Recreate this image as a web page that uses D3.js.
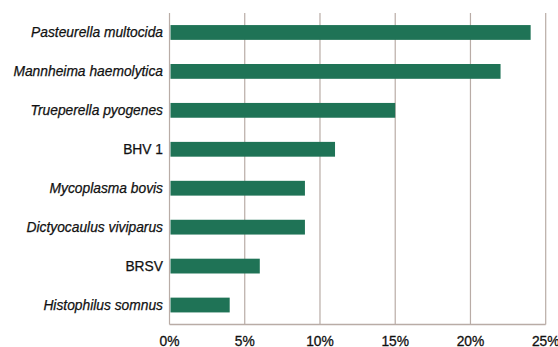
<!DOCTYPE html>
<html><head><meta charset="utf-8">
<script src="https://cdn.jsdelivr.net/npm/d3@7"></script>
<style>body{margin:0;background:#fff}svg{display:block}</style>
</head><body>
<script>
const categories = ["Pasteurella multocida","Mannheima haemolytica","Trueperella pyogenes","BHV 1","Mycoplasma bovis","Dictyocaulus viviparus","BRSV","Histophilus somnus"];
const italic = [true,true,true,false,true,true,false,true];
const values = [24,22,15,11,9,9,6,4];
const ticks = [0,5,10,15,20,25];

const W=558,H=347;
const m={left:169.5,right:12.3,top:13,bottom:22.5};
const svg=d3.select("body").append("svg").attr("width",W).attr("height",H);
const x=d3.scaleLinear().domain([0,25]).range([m.left,W-m.right]);
const y=d3.scaleBand().domain(categories).range([m.top,H-m.bottom]).paddingInner(0.62).paddingOuter(0.31);

const grid="#b9aca6";
svg.append("g").selectAll("line").data(ticks).join("line")
  .attr("x1",d=>x(d)).attr("x2",d=>x(d)).attr("y1",m.top).attr("y2",H-m.bottom)
  .attr("stroke",grid).attr("stroke-width",1.2);
svg.append("line").attr("x1",x(0)).attr("x2",x(25)).attr("y1",H-m.bottom).attr("y2",H-m.bottom)
  .attr("stroke",grid).attr("stroke-width",1.5);

svg.append("g").selectAll("rect").data(values).join("rect")
  .attr("x",x(0)+1).attr("y",(d,i)=>y(categories[i]))
  .attr("width",d=>x(d)-x(0)-1).attr("height",y.bandwidth())
  .attr("fill","#1f7356");

svg.append("g").selectAll("text").data(categories).join("text")
  .attr("x",m.left-6.5).attr("y",d=>y(d)+y.bandwidth()/2).attr("dy","0.35em")
  .attr("text-anchor","end").attr("font-family","Liberation Sans, Arial, sans-serif")
  .attr("font-size",13.8).attr("font-style",(d,i)=>italic[i]?"italic":"normal")
  .attr("fill","#111").attr("stroke","#111").attr("stroke-width",0.25).text(d=>d);

svg.append("g").selectAll("text").data(ticks).join("text")
  .attr("x",d=>x(d)).attr("y",H-1.5).attr("text-anchor","middle")
  .attr("font-family","Liberation Sans, Arial, sans-serif").attr("font-size",13.8)
  .attr("fill","#111").attr("stroke","#111").attr("stroke-width",0.3).text(d=>d+"%");
</script>
</body></html>
